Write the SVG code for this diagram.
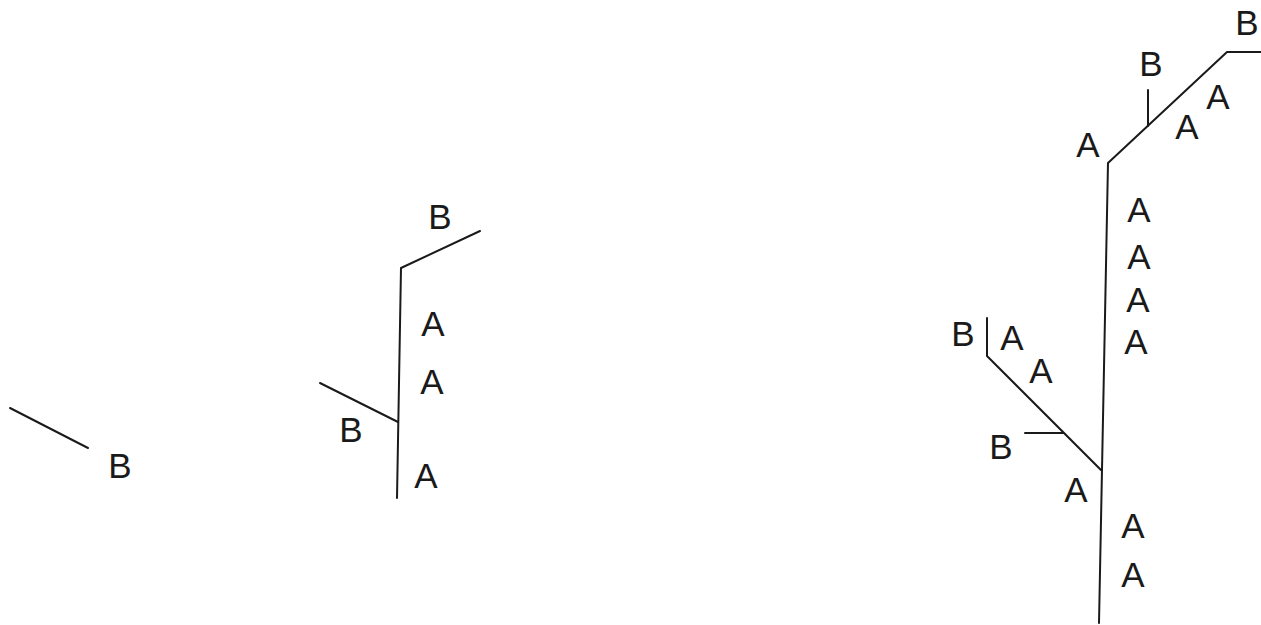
<svg xmlns="http://www.w3.org/2000/svg" width="1261" height="625" viewBox="0 0 1261 625">
<style>
.l{fill:none;stroke:#1a1a1a;stroke-width:2;stroke-linecap:round;stroke-linejoin:round}
text{font-family:"Liberation Sans",Arial,sans-serif;font-size:35px;fill:#1a1a1a;text-anchor:middle}
</style>
<rect width="1261" height="625" fill="#fff"/>
<g id="connectors">
<line class="l" x1="10" y1="408" x2="88" y2="448"/>
<polyline class="l" points="480,231 401,268 397,498"/>
<line class="l" x1="320" y1="383" x2="398" y2="422"/>
<polyline class="l" points="1261,52 1227,52 1108,163 1099,623"/>
<line class="l" x1="1148" y1="90" x2="1148" y2="126"/>
<polyline class="l" points="987,318 987,356 1101,470"/>
<line class="l" x1="1025" y1="433" x2="1063" y2="433"/>
</g>
<g id="fig1"><text x="120" y="478">B</text></g>
<g id="fig2">
<text x="440" y="229">B</text>
<text x="433" y="336">A</text>
<text x="432" y="394">A</text>
<text x="426" y="488">A</text>
<text x="351" y="442">B</text>
</g>
<g id="fig3">
<text x="1247" y="35">B</text>
<text x="1151" y="76">B</text>
<text x="1088" y="157">A</text>
<text x="1187" y="139">A</text>
<text x="1218" y="109">A</text>
<text x="1139" y="222">A</text>
<text x="1139" y="269">A</text>
<text x="1138" y="312">A</text>
<text x="1136" y="354">A</text>
<text x="1133" y="538">A</text>
<text x="1133" y="587">A</text>
<text x="963" y="346">B</text>
<text x="1012" y="350">A</text>
<text x="1041" y="383">A</text>
<text x="1001" y="459">B</text>
<text x="1076" y="502">A</text>
</g>
</svg>
